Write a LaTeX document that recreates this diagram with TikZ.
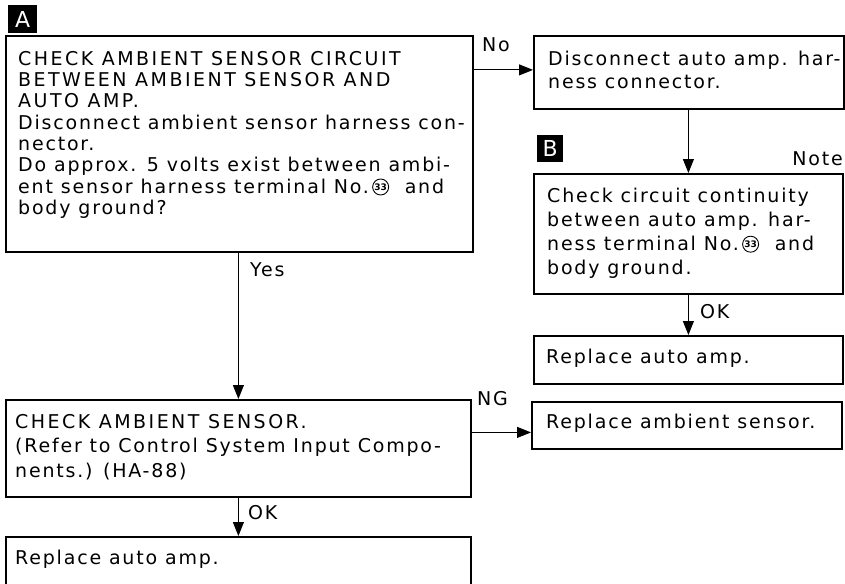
\documentclass[tikz,border=0pt]{standalone}
\usepackage{fontspec}
\setmainfont{DejaVu Sans}[LetterSpace=9.5]
\usetikzlibrary{arrows.meta}
\newsavebox\cnbox
\newcommand\fl{\rule{0pt}{15pt}}
\newcommand\caps[1]{{\addfontfeatures{LetterSpace=13}#1}}
\begin{document}
\sbox\cnbox{\begin{pgfpicture}\pgfsetlinewidth{0.9pt}\pgfpathcircle{\pgfpoint{0pt}{6pt}}{8pt}\pgfusepath{stroke}\pgftext[base,at={\pgfpoint{0pt}{2.7pt}}]{\fontsize{9}{9}\selectfont\bfseries\addfontfeatures{LetterSpace=0}33}\pgfsetbaseline{0pt}\end{pgfpicture}}%
\begin{tikzpicture}[x=1pt,y=-1pt,
  box/.style={draw,line width=1.8pt,inner sep=0pt,anchor=north west},
  txt/.style={inner sep=0pt,anchor=north west,align=left},
  lbl/.style={inner sep=0pt,anchor=base west,font=\fontsize{19}{24}\selectfont},
  arr/.style={line width=1.1pt,-{Triangle[length=14pt,width=11pt]}},
  badge/.style={fill=black,text=white,inner sep=0pt,anchor=north west,font=\fontsize{22}{22}\selectfont\addfontfeatures{LetterSpace=0}}]
\useasboundingbox (0,0) rectangle (845,583);
\clip (0,0) rectangle (845,583);
% badges
\node[badge,minimum width=29pt,minimum height=28pt] (badgeA) at (8,5) {A};
\node[badge,minimum width=26pt,minimum height=27pt] (badgeB) at (537,135) {B};
% boxes
\node[box,minimum width=467pt,minimum height=216pt] (bA) at (5,35) {};
\node[box,minimum width=310pt,minimum height=73pt] (bD) at (533,35) {};
\node[box,minimum width=309pt,minimum height=120pt] (bE) at (533,173) {};
\node[box,minimum width=309pt,minimum height=48pt] (bF) at (533,335) {};
\node[box,minimum width=465pt,minimum height=97pt] (bG) at (5,399) {};
\node[box,minimum width=310pt,minimum height=47pt] (bH) at (531,401) {};
\node[box,minimum width=465pt,minimum height=70pt] (bI) at (5,536) {};
% texts (first baseline = y + 15)
\node[txt,font=\fontsize{19}{21.3}\selectfont] (tA) at (18,50) {\fl\caps{CHECK AMBIENT SENSOR CIRCUIT}\\\caps{BETWEEN AMBIENT SENSOR AND}\\\caps{AUTO AMP.}\\Disconnect ambient sensor harness con-\\nector.\\Do approx. 5 volts exist between ambi-\\ent sensor harness terminal No.\,\usebox\cnbox\ \ and\\body ground?};
\node[txt,font=\fontsize{19}{23.5}\selectfont] (tD) at (548,50) {\fl Disconnect auto amp. har-\\ness connector.};
\node[txt,font=\fontsize{19}{24}\selectfont] (tE) at (547,187) {\fl Check circuit continuity\\between auto amp. har-\\ness terminal No.\,\usebox\cnbox\ \ and\\body ground.};
\node[txt,font=\fontsize{19}{24}\selectfont] (tF) at (546,348) {\fl Replace auto amp.};
\node[txt,font=\fontsize{19}{24.5}\selectfont] (tG) at (15,413) {\fl\caps{CHECK AMBIENT SENSOR.}\\(Refer to Control System Input Compo-\\nents.) (HA-88)};
\node[txt,font=\fontsize{19}{24}\selectfont] (tH) at (546,413) {\fl Replace ambient sensor.};
\node[txt,font=\fontsize{19}{24}\selectfont] (tI) at (15,549) {\fl Replace auto amp.};
% labels
\node[lbl] (lNo) at (482,52) {No};
\node[lbl] (lYes) at (250,276) {Yes};
\node[lbl,anchor=base east] (lNote) at (843,165) {Note};
\node[lbl] (lOK1) at (700,318) {OK};
\node[lbl] (lOK2) at (248,519) {OK};
\node[lbl] (lNG) at (477,405) {NG};
% connectors
\coordinate (noin) at ([yshift=2.5pt]bD.west);
\draw[arr] (noin -| bA.east) -- (noin);
\draw[arr] (bD.south -| bE.north) -- (bE.north);
\draw[arr] (bE.south) -- (bF.north);
\draw[arr] (bA.south -| bG.north) -- (bG.north);
\draw[arr] (bG.south) -- (bI.north);
\coordinate (ngin) at ([yshift=-7pt]bH.west);
\draw[arr] (ngin -| bG.east) -- (ngin);
\end{tikzpicture}
\end{document}
